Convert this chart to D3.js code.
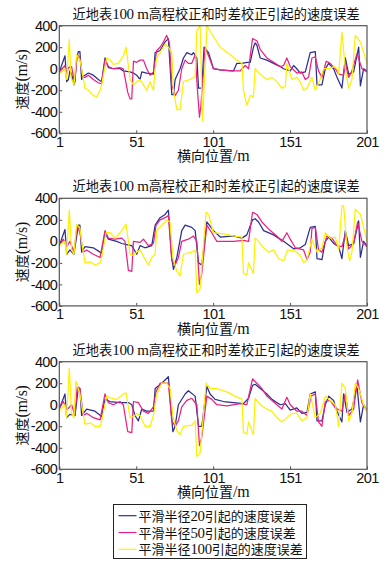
<!DOCTYPE html>
<html>
<head>
<meta charset="utf-8">
<script src="https://cdn.jsdelivr.net/npm/d3@7"></script>
<style>
  html, body { margin: 0; padding: 0; background: #fff; }
  svg { display: block; font-family: "Liberation Serif", "Noto Sans CJK SC", serif; }
</style>
</head>
<body>
<svg id="chart" width="391" height="567"></svg>
<script>
// tick values
const xTicks = [1, 51, 101, 151, 201];
const yTicks = [-600, -400, -200, 0, 200, 400];

const titleText = '近地表100 m高程校正和时差校正引起的速度误差';
const xLabel = '横向位置/m';
const yLabel = '速度(m/s)';
const seriesNames = ['平滑半径20引起的速度误差', '平滑半径50引起的速度误差', '平滑半径100引起的速度误差'];
const seriesColors = ['#2b2f92', '#ea2283', '#fff000'];

// panel 1 (x, velocity error) vertices
const p1Blue = [[1,-30],[4.7,120],[5.8,-120],[6.9,-100],[7.9,-20],[9,-50],[10.5,-150],[11.2,-120],[12.3,100],[13.4,160],[14.4,160],[15.5,-100],[16.6,-70],[19.9,-40],[23.1,-60],[26.4,-100],[28.5,-120],[30.7,100],[32.9,10],[36.1,0],[40.5,0],[42.6,-20],[47,-30],[49.2,-40],[51.3,-60],[53.5,-100],[54.6,-30],[57.8,-40],[62.2,-50],[63.3,150],[66.5,170],[69.8,250],[71.9,280],[74.1,-240],[75.2,-240],[76.3,-100],[79.5,0],[81.7,100],[83.9,150],[87.1,130],[88.2,150],[90.4,100],[91.5,-180],[93.6,-180],[95.1,200],[98,150],[101.2,0],[105.6,-10],[114.2,-20],[116.4,50],[119.7,50],[122.9,60],[125.1,60],[127.2,200],[128.3,240],[129.4,220],[131.6,100],[135.9,80],[140.3,50],[144.6,20],[146.8,0],[151.1,-20],[153.3,30],[155.4,0],[157.6,-40],[160.9,-30],[164.1,150],[167.4,160],[168.5,-150],[171.7,-150],[173.9,0],[176.1,50],[179.3,0],[181.5,-80],[184.7,-180],[186.9,100],[189.1,-50],[192.3,-30],[195.6,200],[196.7,-160],[198.8,0],[201,-20]];
const p1Magenta = [[1,-30],[4.7,30],[5.8,-50],[6.9,10],[9,20],[10.5,-100],[11.2,-80],[12.7,130],[14.4,100],[16.2,-80],[17.7,-80],[19.9,-60],[23.1,-100],[26.4,-130],[28.5,-140],[30.7,80],[32.9,20],[36.1,0],[40.5,10],[42.6,0],[45.5,-220],[47,-280],[48.1,-280],[49.2,70],[51.3,60],[53.5,80],[55.7,80],[57.8,0],[60,-60],[62.2,-30],[64.3,170],[66.5,200],[68.7,250],[70.8,310],[72.6,240],[74.1,-150],[76.3,-250],[78.4,-200],[80.6,0],[82.8,80],[84.9,50],[87.1,50],[89.3,130],[90.8,-200],[92.1,-450],[93,-350],[95.8,200],[98,120],[101.2,0],[105.6,-10],[112.1,-20],[118.6,-20],[121.8,30],[124,0],[126.6,280],[129.4,260],[131.6,180],[135.9,100],[140.3,60],[144.6,20],[146.8,30],[148.9,100],[151.1,20],[155.4,-40],[158.7,-30],[160.9,-100],[163,-80],[165.2,100],[167.4,110],[169.5,-20],[171.7,-80],[174.5,70],[177.1,50],[180.4,0],[182.6,-50],[185.8,-60],[186.9,50],[189.1,-80],[191.2,-20],[194.5,140],[197.7,0],[201,-30]];
const p1Yellow = [[1,-50],[2.5,-30],[4.7,0],[5.8,-100],[7.5,270],[8.6,-80],[10.5,-150],[12.3,130],[14.4,80],[15.5,0],[17.7,-180],[19.9,-200],[23.1,-250],[25.3,-260],[27.5,-200],[28.5,-150],[31.8,100],[34,80],[36.1,40],[39.4,50],[42.6,120],[44.4,200],[47,-100],[49.2,-150],[51.3,-120],[53.5,-100],[55.7,-150],[57.8,-200],[60,-120],[62.2,-200],[63.3,0],[64.3,100],[66.5,150],[69.8,230],[71.9,200],[74.1,150],[75.2,-200],[77.4,-380],[79.5,-380],[81.7,-120],[86,-100],[89.3,-70],[90.4,350],[92.5,410],[94.1,-480],[97,400],[101.2,300],[105.6,200],[112.1,130],[116.4,80],[119.7,50],[120.7,-200],[122.9,-340],[125.1,-250],[127.2,-260],[128.3,0],[131.6,-50],[135.9,-100],[139.2,-80],[142.4,-120],[145.7,-180],[147.9,-160],[148.9,50],[152.2,-100],[155.4,-80],[157.6,-120],[159.8,-200],[162,-180],[165.2,-80],[167.4,-200],[170.6,-100],[172.8,0],[176.1,0],[179.3,20],[181.5,0],[182.6,-50],[184.7,340],[186.9,0],[189.1,-180],[191.2,-100],[193.4,310],[196.7,250],[201,50]];

// panel 2
const p2Blue = [[1,-40],[4.7,110],[5.8,-120],[7.9,-80],[10.5,-120],[13.4,150],[14.4,150],[15.5,-100],[17.7,-50],[23.1,-60],[27.5,-100],[28.5,-110],[30.7,80],[32.9,20],[38.3,0],[41.6,-20],[44.8,-30],[48.1,-40],[51.3,-120],[53.5,-40],[56.7,-60],[61.1,-40],[63.3,150],[66.5,220],[69.8,250],[71.9,290],[74.1,-150],[75.2,-260],[77.4,-150],[80.6,100],[82.8,150],[87.1,130],[89.3,100],[91.5,-200],[93.6,-220],[96.9,180],[101.2,100],[105.6,40],[114.2,50],[119.7,30],[122.9,60],[126.6,200],[128.3,210],[130.5,180],[133.8,100],[140.3,60],[143.5,30],[146.8,0],[153.3,-70],[157.6,-60],[160.9,-30],[164.1,130],[167.4,140],[168.5,-160],[171.7,-170],[173.9,0],[176.1,40],[179.3,-20],[182.6,-50],[184.7,-160],[186.9,100],[189.1,-40],[192.3,-20],[195.6,190],[196.7,-150],[198.8,0],[201,-40]];
const p2Magenta = [[1,-40],[3.6,20],[5.8,-50],[7.9,0],[10.5,-100],[12.7,150],[14.4,80],[16.6,-100],[18.8,-80],[23.1,-120],[27.5,-150],[30.7,100],[32.9,30],[37.2,20],[41.6,30],[43.7,0],[45.9,-270],[48.1,-280],[49.2,0],[53.5,-10],[55.7,20],[58.9,-40],[62.2,-20],[63.9,150],[66.5,200],[69.8,220],[71.9,240],[74.1,-180],[76.3,-220],[78.4,-150],[80.6,0],[84.9,20],[88.2,50],[90.4,0],[92.1,-400],[93.6,-300],[96.9,150],[100.1,80],[103.4,0],[114.2,0],[120.7,10],[124,0],[126.6,270],[129.4,250],[132.7,180],[138.1,100],[142.4,50],[145.7,0],[148.9,80],[151.1,20],[154.4,-60],[159.8,-80],[162,-170],[164.1,-100],[165.2,120],[167.4,130],[169.5,-80],[171.7,-100],[175,50],[178.2,30],[181.5,-40],[184.7,-50],[186.9,60],[189.1,-70],[192.3,-20],[194.9,180],[197.7,0],[201,-50]];
const p2Yellow = [[1,-40],[4.7,0],[5.8,-120],[7.5,290],[9,-80],[10.5,-120],[12.3,160],[14.4,120],[15.5,0],[17.7,-200],[21,-190],[24.2,-220],[27.5,-200],[28.5,-150],[31.4,80],[34,80],[37.2,30],[41.6,100],[44.4,160],[47,-120],[49.2,-130],[51.3,-100],[53.5,-80],[56.1,-150],[58.9,-220],[61.1,-150],[63.3,-120],[64.3,100],[67.6,150],[70.8,200],[73,180],[74.8,-150],[77.4,-280],[79.5,-320],[81.7,-120],[87.1,-100],[89.3,-80],[90.4,-480],[92.5,-440],[96.4,270],[98,250],[101.2,80],[107.7,70],[114.2,50],[119.7,40],[120.7,-300],[122.9,-310],[124,-200],[127.2,-300],[128.3,30],[130.5,0],[133.8,-60],[137,-100],[140.3,-80],[143.5,-160],[146.8,-180],[149.4,-80],[154.4,-90],[157.6,-130],[159.8,-200],[162,-170],[165.2,20],[168.5,-100],[171.7,-60],[173.9,80],[177.1,30],[180.4,40],[182.6,-80],[184.7,330],[185.8,330],[188,-50],[189.7,-180],[191.2,-100],[193.4,300],[196.7,250],[201,0]];

// panel 3
const p3Blue = [[1,-40],[4.7,100],[5.8,-120],[7.9,-90],[11.2,-100],[13.4,160],[14.4,150],[15.5,-100],[18.8,-40],[24.2,-60],[28.5,-110],[30.7,50],[34,30],[40.5,20],[45.9,20],[48.1,0],[50.2,-100],[52.4,-150],[54.6,-40],[57.8,-60],[62.2,-60],[63.3,150],[67.6,200],[71.9,260],[74.8,-250],[76.3,-200],[78.4,0],[82.8,100],[84.9,130],[89.3,80],[91.5,-200],[93.6,-200],[96.9,170],[99,100],[102.3,50],[107.7,30],[114.2,20],[120.7,10],[124,60],[126.6,180],[128.3,190],[131.6,150],[135.9,100],[139.2,50],[144.6,0],[147.9,10],[151.1,-50],[155.4,-30],[158.7,-80],[162,-70],[164.1,100],[167.4,120],[168.5,-150],[171.7,-150],[173.9,0],[176.1,80],[179.3,40],[181.5,-60],[184.7,-160],[185.8,100],[188,-70],[191.2,-40],[194.5,180],[196.7,-160],[198.8,0],[201,-50]];
const p3Magenta = [[1,-30],[3.6,30],[5.8,-50],[9,0],[11.2,-100],[12.7,170],[14.4,150],[16.6,-100],[18.8,-80],[23.1,-120],[27.5,-140],[30.7,100],[32.9,20],[36.1,0],[40.5,30],[42.6,0],[45.5,-250],[48.1,-260],[49.2,30],[52.4,20],[55.7,-60],[58.9,-80],[62.2,-20],[63.9,120],[66.5,200],[69.8,200],[71.9,200],[74.1,-150],[76.3,-200],[78.4,-150],[80.6,-20],[83.9,40],[87.1,60],[90.4,0],[92.1,-380],[93.6,-300],[96.9,80],[100.1,50],[103.4,0],[109.9,-10],[118.6,10],[122.9,0],[126.6,240],[129.4,200],[132.7,150],[135.9,80],[142.4,0],[145.7,-40],[148.9,70],[151.1,0],[155.4,-60],[158.7,-60],[162,-100],[164.6,80],[167.4,100],[169.5,-160],[171.7,-200],[173.9,30],[177.1,40],[180.4,-30],[184.7,-60],[186.9,100],[189.1,-100],[192.3,-40],[194.9,230],[197.7,20],[201,-60]];
const p3Yellow = [[1,-60],[4.7,0],[5.8,-120],[7.5,340],[9,-80],[10.5,-120],[11.8,220],[14.4,100],[15.5,0],[17.7,-180],[21,-170],[24.2,-200],[27.5,-200],[28.5,-150],[31.8,80],[35.1,60],[38.3,50],[42.6,100],[44.4,110],[47,-120],[49.2,-110],[51.3,-80],[53.5,-100],[56.7,-200],[60,-200],[62.2,-100],[64.3,100],[67.6,200],[70.8,200],[73,150],[74.8,-100],[77.4,-240],[79.5,-280],[81.7,-200],[87.1,-190],[89.3,-150],[90.4,-480],[92.5,-450],[96.4,200],[99,150],[103.4,150],[109.9,120],[115.3,80],[119.7,50],[120.7,-260],[122.9,-270],[124,-160],[127.2,-280],[128.3,60],[131.6,0],[135.9,-40],[139.2,-60],[142.4,-120],[145.7,-160],[148.9,-120],[152.2,-80],[155.4,-80],[158.7,-150],[162,-120],[164.1,100],[167.4,-120],[170.6,-80],[173.9,80],[177.1,40],[180.4,0],[182.6,-200],[184.7,200],[186.9,150],[189.1,-150],[191.2,-80],[193.4,200],[195.6,150],[198.8,0],[201,-60]];

const panels = [
  { top: 25.7, series: [p1Blue, p1Magenta, p1Yellow] },
  { top: 198.3, series: [p2Blue, p2Magenta, p2Yellow] },
  { top: 361.7, series: [p3Blue, p3Magenta, p3Yellow] }
];

const svg = d3.select('#chart');
const plotLeft = 59.3, plotRight = 367, plotH = 107.6;

const x = d3.scaleLinear().domain([1, 201]).range([plotLeft, plotRight]);

// mixed text: latin runs in serif slightly larger so they match the CJK height
function mixedText(sel, str) {
  str.split(/([\x20-\x7e]+)/).filter(s => s.length).forEach(part => {
    const t = sel.append('tspan').text(part);
    if (/^[\x20-\x7e]+$/.test(part)) t.style('font-size', '1.14em').style('letter-spacing', '-0.3px');
  });
}

panels.forEach(p => {
  const y = d3.scaleLinear().domain([-600, 400]).range([p.top + plotH, p.top]);
  const g = svg.append('g');

  const clipId = 'clip' + Math.round(p.top);
  g.append('clipPath').attr('id', clipId)
    .append('rect')
    .attr('x', plotLeft).attr('y', p.top)
    .attr('width', plotRight - plotLeft).attr('height', plotH);

  const line = d3.line().x(d => x(d[0])).y(d => y(d[1]));

  p.series.forEach((s, i) => {
    g.append('path')
      .datum(s)
      .attr('clip-path', `url(#${clipId})`)
      .attr('fill', 'none')
      .attr('stroke', seriesColors[i])
      .attr('stroke-width', 1.25)
      .attr('stroke-linejoin', 'round')
      .attr('d', line);
  });

  // axes with inward ticks
  const xAxis = g.append('g')
    .attr('transform', `translate(0,${p.top + plotH})`)
    .call(d3.axisBottom(x).tickValues(xTicks).tickSize(-3).tickPadding(3).tickFormat(d3.format('d')));
  const yAxis = g.append('g')
    .attr('transform', `translate(${plotLeft},0)`)
    .call(d3.axisLeft(y).tickValues(yTicks).tickSize(-3).tickPadding(2).tickFormat(d => d < 0 ? '-' + Math.abs(d) : d));
  [xAxis, yAxis].forEach(a => {
    a.select('.domain').remove();
    a.selectAll('line').attr('stroke', '#555');
    a.selectAll('text').attr('fill', '#111').style('font-size', '14.5px').style('letter-spacing', '-0.6px');
  });

  // box
  g.append('rect')
    .attr('x', plotLeft).attr('y', p.top)
    .attr('width', plotRight - plotLeft).attr('height', plotH)
    .attr('fill', 'none').attr('stroke', '#555').attr('stroke-width', 1.2);

  g.append('text')
    .attr('x', (plotLeft + plotRight) / 2 + 3)
    .attr('y', p.top - 7)
    .attr('text-anchor', 'middle')
    .style('font-size', '13.2px')
    .attr('fill', '#111')
    .call(mixedText, titleText);

  g.append('text')
    .attr('x', (plotLeft + plotRight) / 2)
    .attr('y', p.top + plotH + 28)
    .attr('text-anchor', 'middle')
    .style('font-size', '14px')
    .attr('fill', '#111')
    .call(mixedText, xLabel);

  g.append('text')
    .attr('transform', `translate(27,${p.top + plotH / 2}) rotate(-90)`)
    .attr('text-anchor', 'middle')
    .style('font-size', '14px')
    .attr('fill', '#111')
    .call(mixedText, yLabel);
});

// legend
const legend = svg.append('g');
legend.append('rect')
  .attr('x', 113.5).attr('y', 504.5)
  .attr('width', 193).attr('height', 54)
  .attr('fill', '#fff').attr('stroke', '#222').attr('stroke-width', 1);
seriesNames.forEach((name, i) => {
  const ly = 515.7 + i * 16.8;
  legend.append('line')
    .attr('x1', 118.5).attr('x2', 136.5)
    .attr('y1', ly).attr('y2', ly)
    .attr('stroke', seriesColors[i]).attr('stroke-width', 1.2);
  legend.append('text')
    .attr('x', 138.5).attr('y', ly + 5)
    .style('font-size', '13px')
    .attr('fill', '#111')
    .call(mixedText, name);
});
</script>
</body>
</html>
